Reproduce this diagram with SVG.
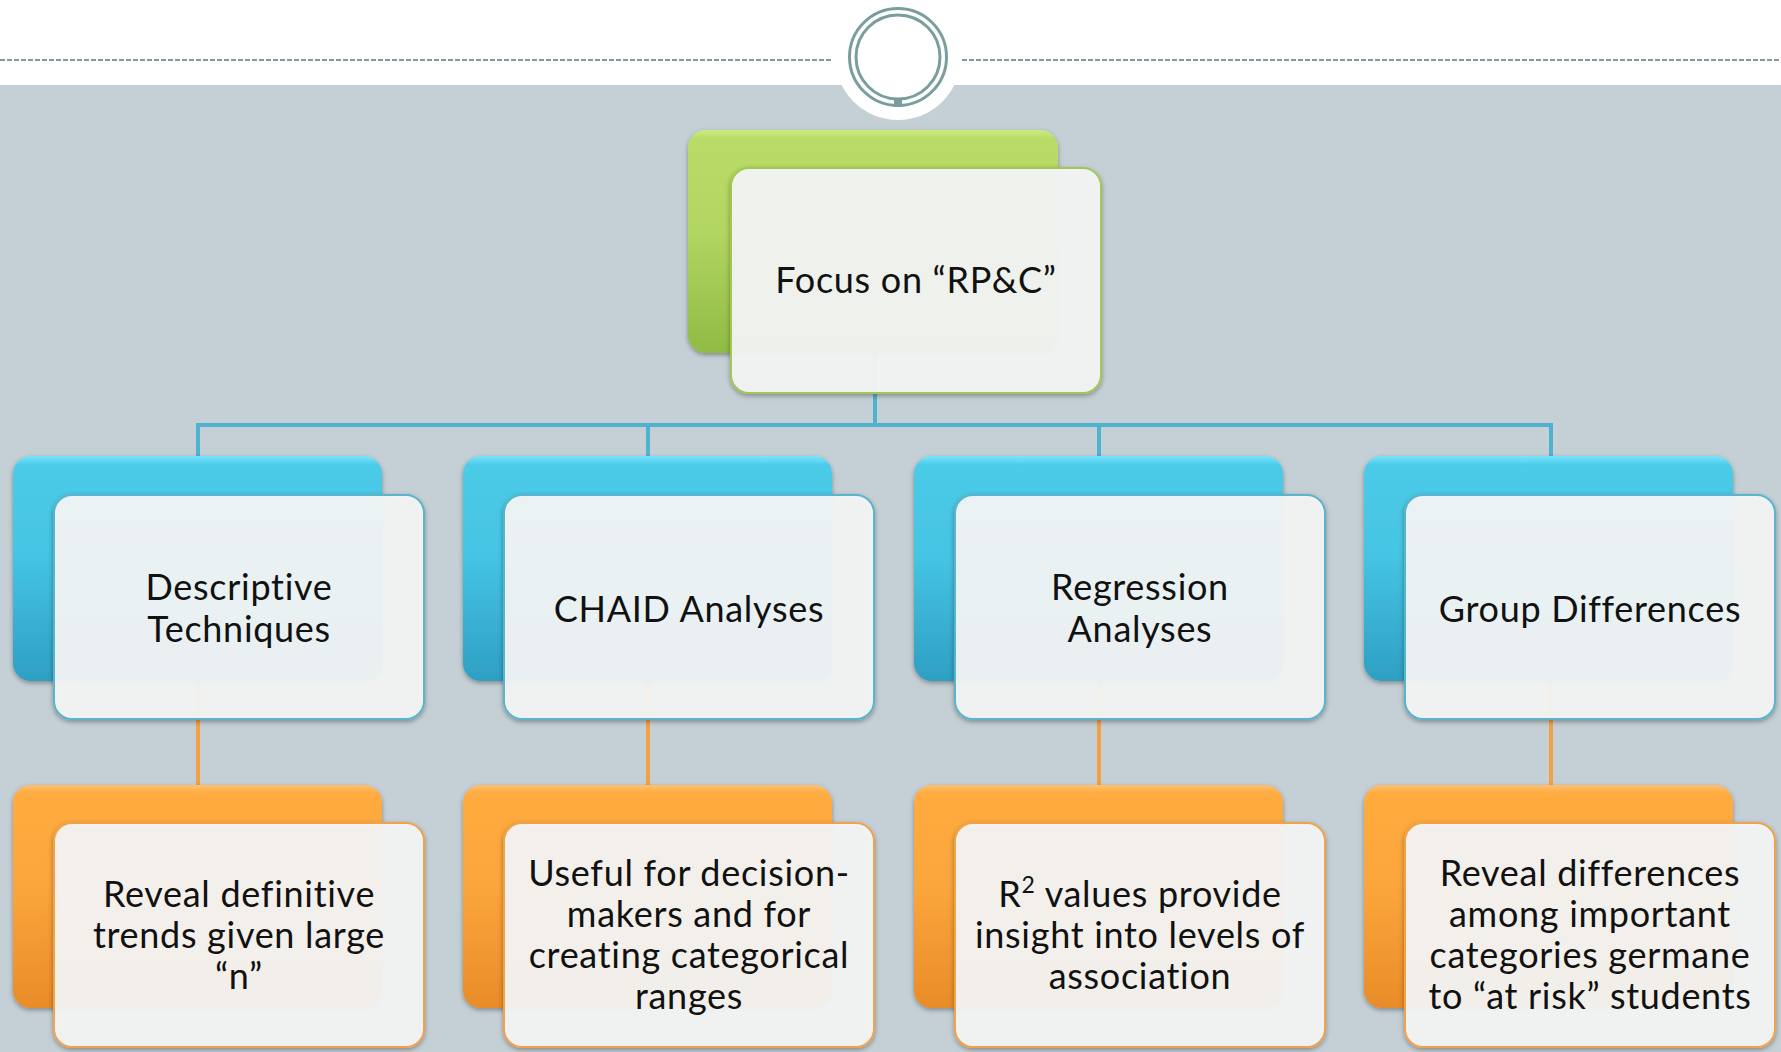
<svg xmlns="http://www.w3.org/2000/svg" width="1781" height="1052" viewBox="0 0 1781 1052">
<style>
.t{font-family:Lato,"Open Sans","Liberation Sans",sans-serif;font-size:36px;letter-spacing:0.7px;fill:#111;text-anchor:middle}
.front{fill:#f5f6f6;fill-opacity:0.93;stroke-width:2}
.fb{stroke:#5ab4cc}.fo{stroke:#f2a24a}.fg{stroke:#a2c852}
.cb{stroke:#4fb3cf;stroke-width:4;fill:none}
.co{stroke:#f4a044;stroke-width:4;fill:none}
</style>
<defs>
<linearGradient id="gBlue" x1="0" y1="0" x2="0" y2="1">
<stop offset="0" stop-color="#78e6ff"/><stop offset="0.04" stop-color="#4ccbe8"/><stop offset="0.45" stop-color="#45c4e3"/><stop offset="1" stop-color="#2e9fc3"/>
</linearGradient>
<linearGradient id="gOrange" x1="0" y1="0" x2="0" y2="1">
<stop offset="0" stop-color="#ffc070"/><stop offset="0.04" stop-color="#ffab3f"/><stop offset="0.45" stop-color="#fba63c"/><stop offset="1" stop-color="#e98c28"/>
</linearGradient>
<linearGradient id="gGreen" x1="0" y1="0" x2="0" y2="1">
<stop offset="0" stop-color="#cdeb80"/><stop offset="0.04" stop-color="#b9dc67"/><stop offset="0.45" stop-color="#b2d660"/><stop offset="1" stop-color="#90bb44"/>
</linearGradient>
<filter id="sh" x="-10%" y="-10%" width="120%" height="130%">
<feDropShadow dx="0" dy="2" stdDeviation="2.5" flood-color="#000" flood-opacity="0.35"/>
</filter>
</defs>
<rect x="0" y="0" width="1781" height="1052" fill="#ffffff"/>
<rect x="0" y="85" width="1781" height="967" fill="#c5d0d6"/>
<g id="header">
<line x1="0" y1="60" x2="833" y2="60" stroke="#7a9e9e" stroke-width="2" stroke-dasharray="5 2"/>
<line x1="962" y1="60" x2="1781" y2="60" stroke="#7a9e9e" stroke-width="2" stroke-dasharray="5 2"/>
<circle cx="898" cy="57" r="63" fill="#ffffff"/>
<circle cx="898" cy="57" r="48.5" fill="none" stroke="#7a9e9e" stroke-width="3"/>
<circle cx="898" cy="57" r="42" fill="none" stroke="#7a9e9e" stroke-width="3"/>
<rect x="894" y="98" width="8" height="9" fill="#7a9e9e"/>
</g>
<g id="connectors">
<path class="cb" d="M875 353V425M198 425H1551M198 423V456M648 423V456M1099 423V456M1551 423V456"/>
<path class="co" d="M198 681V785M648 681V785M1099 681V785M1551 681V785"/>
</g>
<g id="root">
<rect x="688" y="130" width="370" height="223" rx="18" fill="url(#gGreen)" filter="url(#sh)"/>
<rect class="front fg" x="731" y="168" width="370" height="225" rx="18" filter="url(#sh)"/>
<text class="t" x="916" y="293">Focus on “RP&amp;C”</text>
</g>
<g id="descriptive">
<rect x="13" y="456" width="369" height="225" rx="18" fill="url(#gBlue)" filter="url(#sh)"/>
<rect class="front fb" x="54" y="495" width="370" height="224" rx="18" filter="url(#sh)"/>
<text class="t" x="239" y="600">Descriptive</text>
<text class="t" x="239" y="642">Techniques</text>
</g>
<g id="chaid">
<rect x="463" y="456" width="369" height="225" rx="18" fill="url(#gBlue)" filter="url(#sh)"/>
<rect class="front fb" x="504" y="495" width="370" height="224" rx="18" filter="url(#sh)"/>
<text class="t" x="689" y="622">CHAID Analyses</text>
</g>
<g id="regression">
<rect x="914" y="456" width="369" height="225" rx="18" fill="url(#gBlue)" filter="url(#sh)"/>
<rect class="front fb" x="955" y="495" width="370" height="224" rx="18" filter="url(#sh)"/>
<text class="t" x="1140" y="600">Regression</text>
<text class="t" x="1140" y="642">Analyses</text>
</g>
<g id="group">
<rect x="1364" y="456" width="369" height="225" rx="18" fill="url(#gBlue)" filter="url(#sh)"/>
<rect class="front fb" x="1405" y="495" width="370" height="224" rx="18" filter="url(#sh)"/>
<text class="t" x="1590" y="622">Group Differences</text>
</g>
<g id="trends">
<rect x="13" y="785" width="369" height="223" rx="18" fill="url(#gOrange)" filter="url(#sh)"/>
<rect class="front fo" x="54" y="823" width="370" height="224" rx="18" filter="url(#sh)"/>
<text class="t" x="239" y="907">Reveal definitive</text>
<text class="t" x="239" y="948">trends given large</text>
<text class="t" x="239" y="989">“n”</text>
</g>
<g id="useful">
<rect x="463" y="785" width="369" height="223" rx="18" fill="url(#gOrange)" filter="url(#sh)"/>
<rect class="front fo" x="504" y="823" width="370" height="224" rx="18" filter="url(#sh)"/>
<text class="t" x="689" y="886">Useful for decision-</text>
<text class="t" x="689" y="927">makers and for</text>
<text class="t" x="689" y="968">creating categorical</text>
<text class="t" x="689" y="1009">ranges</text>
</g>
<g id="rsquared">
<rect x="914" y="785" width="369" height="223" rx="18" fill="url(#gOrange)" filter="url(#sh)"/>
<rect class="front fo" x="955" y="823" width="370" height="224" rx="18" filter="url(#sh)"/>
<text class="t" x="1140" y="907">R<tspan font-size="23" dy="-14">2</tspan><tspan dy="14"> values provide</tspan></text>
<text class="t" x="1140" y="948">insight into levels of</text>
<text class="t" x="1140" y="989">association</text>
</g>
<g id="differences">
<rect x="1364" y="785" width="369" height="223" rx="18" fill="url(#gOrange)" filter="url(#sh)"/>
<rect class="front fo" x="1405" y="823" width="370" height="224" rx="18" filter="url(#sh)"/>
<text class="t" x="1590" y="886">Reveal differences</text>
<text class="t" x="1590" y="927">among important</text>
<text class="t" x="1590" y="968">categories germane</text>
<text class="t" x="1590" y="1009">to “at risk” students</text>
</g>
</svg>
